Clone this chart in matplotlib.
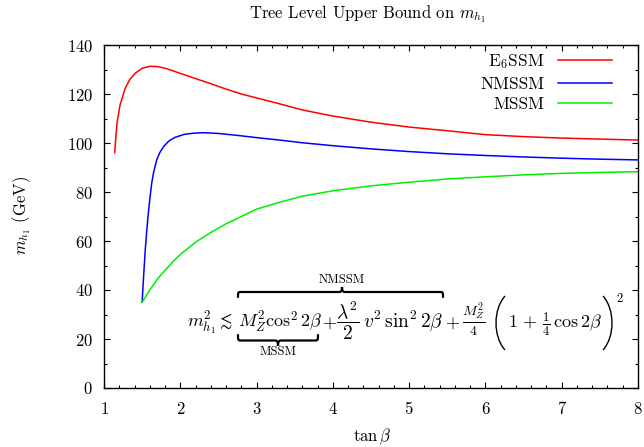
import matplotlib
matplotlib.use("Agg")
import matplotlib.pyplot as plt
from matplotlib.path import Path
from matplotlib.patches import PathPatch
from matplotlib.transforms import Affine2D
from matplotlib.ticker import MultipleLocator

plt.rcParams['font.family'] = 'serif'
plt.rcParams['font.serif'] = ['cmr10', 'DejaVu Serif']
plt.rcParams['mathtext.fontset'] = 'cm'
plt.rcParams['axes.unicode_minus'] = False
plt.rcParams['axes.formatter.use_mathtext'] = True

# values
tanb_e6 = [1.14, 1.17, 1.21, 1.25, 1.28, 1.34, 1.41, 1.5, 1.6, 1.7, 1.8, 1.9, 2.0,
           2.2, 2.4, 2.6, 2.8, 3.0, 3.3, 3.6, 4.0, 4.5, 5.0, 5.5, 6.0, 6.5, 7.0, 7.5, 8.0]
mh_e6 = [96, 108, 115.5, 119.5, 122.5, 126, 128.5, 130.5, 131.3, 131.2, 130.5, 129.5, 128.4,
         126.3, 124.2, 122, 120, 118.4, 116, 113.5, 111, 108.5, 106.5, 105, 103.4, 102.6,
         102.0, 101.6, 101.2]

tanb_nm = [1.5, 1.52, 1.54, 1.56, 1.58, 1.6, 1.625, 1.65, 1.69, 1.73, 1.78, 1.85, 1.93,
           2.05, 2.17, 2.3, 2.5, 2.75, 3.0, 3.3, 3.6, 4.0, 4.5, 5.0, 5.5, 6.0, 6.5, 7.0, 7.5, 8.0]
mh_nm = [35, 46, 56, 64, 71, 77, 83.5, 88, 93, 96, 98.5, 100.8, 102.3,
         103.5, 104, 104.2, 103.9, 103.1, 102.2, 101.2, 100.1, 98.9, 97.6, 96.5, 95.6, 94.9,
         94.3, 93.8, 93.4, 93.1]

tanb_ms = [1.5, 1.6, 1.7, 1.8, 1.9, 2.0, 2.2, 2.4, 2.6, 2.8, 3.0, 3.3, 3.6, 4.0, 4.5,
           5.0, 5.5, 6.0, 6.5, 7.0, 7.5, 8.0]
mh_ms = [35, 40, 44.5, 48, 51.5, 54.5, 59.5, 63.5, 67, 70, 73, 75.8, 78.3, 80.5, 82.5,
         84, 85.3, 86.2, 87, 87.6, 88, 88.3]

W, H = 644, 447
fig = plt.figure(figsize=(W / 100, H / 100), dpi=100)
ax = fig.add_axes([104 / W, 1 - 388 / H, 534 / W, 343 / H])

ax.plot(tanb_e6, mh_e6, color='#ff0000', lw=1.1, label='E$_6$SSM')
ax.plot(tanb_nm, mh_nm, color='#0000ff', lw=1.1, label='NMSSM')
ax.plot(tanb_ms, mh_ms, color='#00ee00', lw=1.1, label='MSSM')

ax.set_xlim(1, 8)
ax.set_ylim(0, 140)
ax.xaxis.set_major_locator(MultipleLocator(1))
ax.xaxis.set_minor_locator(MultipleLocator(0.2))
ax.yaxis.set_major_locator(MultipleLocator(20))
ax.yaxis.set_minor_locator(MultipleLocator(10))
ax.tick_params(which='both', direction='in', top=True, right=True, labelsize=12, width=0.8)
ax.tick_params(which='major', length=4.5)
ax.tick_params(which='minor', length=2.3)
ax.tick_params(axis='x', pad=9)
ax.tick_params(axis='y', pad=8)
for s in ax.spines.values():
    s.set_linewidth(1.0)

ax.legend(loc='upper right', bbox_to_anchor=(0.951, 0.978), frameon=False,
          markerfirst=False, fontsize=12.5, handlelength=3.1, handletextpad=0.8,
          labelspacing=0.28, borderpad=0, borderaxespad=0)

# pixel coordinates measured from the top-left corner
T = Affine2D().scale(1 / W, -1 / H).translate(0, 1) + fig.transFigure

fig.text(367, 14, r'Tree Level Upper Bound on $m_{h_1}$', transform=T,
         ha='center', va='center', fontsize=12)
fig.text(372, 437, r'$\tan\beta$', transform=T, ha='center', va='center', fontsize=12)
fig.text(22, 215, r'$m_{h_1}$ (GeV)', transform=T, ha='center', va='center',
         rotation=90, fontsize=12)

# formula
base = 328
fs = 13
fig.text(187, base, r'$m_{h_1}^2 \lesssim$', transform=T, va='baseline', fontsize=fs)
fig.text(238, base, r'$M_Z^2\cos^2 2\beta$', transform=T, va='baseline', fontsize=fs)
fig.text(322, base, r'$+$', transform=T, va='baseline', fontsize=fs)
fig.text(336, base, r'$\dfrac{\lambda^2}{2}\,v^2\,\sin^2 2\beta$', transform=T,
         va='baseline', fontsize=fs + 1)
fig.text(445, base, r'$+$', transform=T, va='baseline', fontsize=fs)
fig.text(462, base, r'$\frac{M_Z^2}{4}$', transform=T, va='baseline', fontsize=fs + 1.5)
fig.text(508, base, r'$1\,+\,\frac{1}{4}\,\cos 2\beta$', transform=T, va='baseline',
         fontsize=fs)
fig.text(620, 298, r'$2$', transform=T, ha='center', va='center', fontsize=9)
fig.text(342, 280, 'NMSSM', transform=T, ha='center', va='center', fontsize=9)
fig.text(278, 352, 'MSSM', transform=T, ha='center', va='center', fontsize=9)


def brace(x0, x1, xt, y_end, y_tip, r=4):
    ym = (y_end + y_tip) / 2
    verts = [(x0, y_end), (x0, ym), (x0, ym), (x0 + r, ym),
             (xt - r, ym),
             (xt - r / 3, ym), (xt, ym), (xt, y_tip),
             (xt, ym), (xt + r / 3, ym), (xt + r, ym),
             (x1 - r, ym),
             (x1, ym), (x1, ym), (x1, y_end)]
    codes = [Path.MOVETO, Path.CURVE4, Path.CURVE4, Path.CURVE4,
             Path.LINETO,
             Path.CURVE4, Path.CURVE4, Path.CURVE4,
             Path.CURVE4, Path.CURVE4, Path.CURVE4,
             Path.LINETO,
             Path.CURVE4, Path.CURVE4, Path.CURVE4]
    fig.add_artist(PathPatch(Path(verts, codes), transform=T, fill=False,
                             lw=1.6, color='black', capstyle='round'))


def paren(xe, xb, y0, y1):
    verts = [(xe, y0), (xb, y0 + (y1 - y0) * 0.25), (xb, y0 + (y1 - y0) * 0.75), (xe, y1)]
    codes = [Path.MOVETO, Path.CURVE4, Path.CURVE4, Path.CURVE4]
    fig.add_artist(PathPatch(Path(verts, codes), transform=T, fill=False,
                             lw=1.0, color='black'))


brace(238, 443, 342, 297, 287)
brace(238, 318, 278, 335, 346)
paren(505, 493, 296, 350)
paren(603, 615, 296, 350)

fig.savefig('out.png', dpi=100)
